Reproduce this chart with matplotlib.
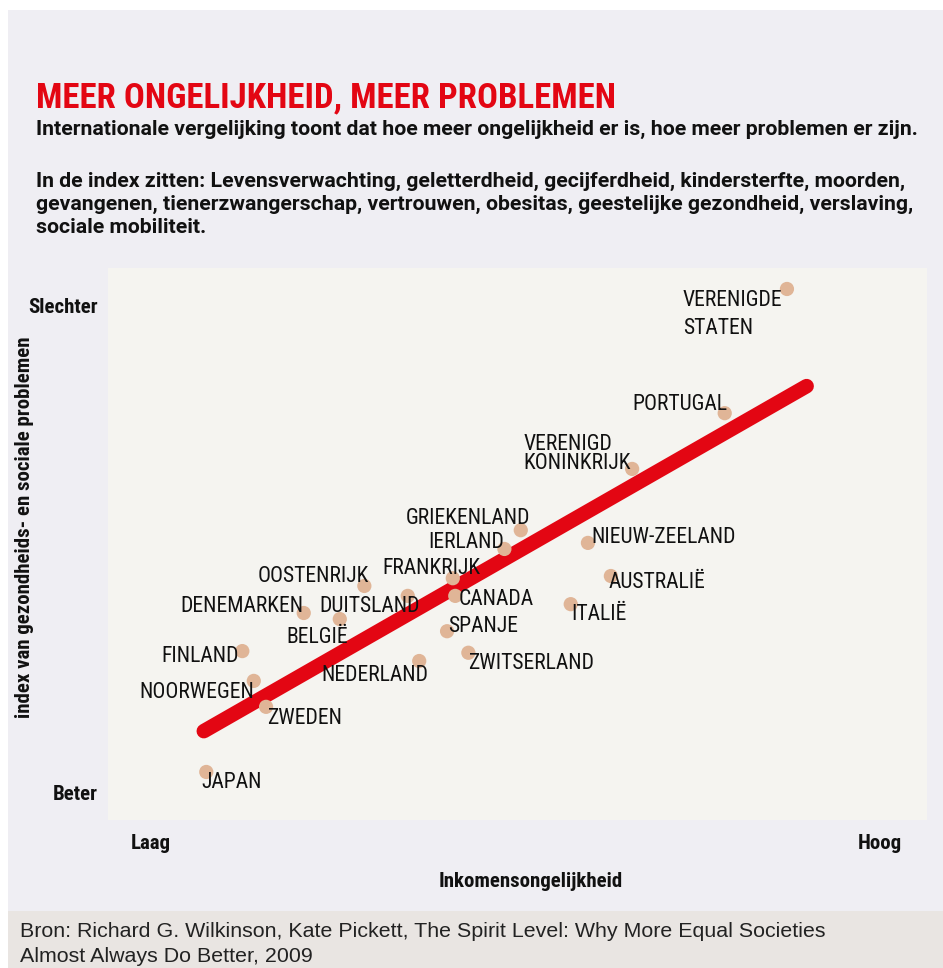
import matplotlib
matplotlib.use("Agg")
import matplotlib.pyplot as plt
from matplotlib.patches import Rectangle

# data (index scores, 0-100 on both axes)
countries = ["VERENIGDE\nSTATEN", "PORTUGAL", "VERENIGD\nKONINKRIJK", "GRIEKENLAND", "IERLAND",
             "NIEUW-ZEELAND", "FRANKRIJK", "AUSTRALIË", "CANADA", "DUITSLAND", "OOSTENRIJK",
             "DENEMARKEN", "BELGIË", "ITALIË", "SPANJE", "ZWITSERLAND", "NEDERLAND",
             "FINLAND", "NOORWEGEN", "ZWEDEN", "JAPAN"]
inequality = [82.9, 75.3, 64.0, 50.4, 48.4, 58.6, 42.1, 61.4, 42.4, 36.6, 31.3,
              23.9, 28.3, 56.5, 41.4, 44.0, 38.0, 16.4, 17.8, 19.3, 12.0]
problems = [96.2, 73.7, 63.6, 52.5, 49.1, 50.2, 43.8, 44.2, 40.6, 40.6, 42.4,
            37.5, 36.4, 39.1, 34.2, 30.3, 28.8, 30.6, 25.2, 20.5, 8.7]
trend_x = [11.7, 85.3]
trend_y = [16.1, 78.6]

# label placement: (dx px, dy px of first baseline, alignment, px between lines)
label_pos = [(-104, -17, "left", 28), (3, 3, "right", 0), (-109, 19, "left", 19),
             (9, 6, "right", 0), (0, 1, "right", 0), (3, 0, "left", 0), (28, 4, "right", 0),
             (-2, -12, "left", 0), (3, -9, "left", 0), (12, -16, "right", 0), (5, 4, "right", 0),
             (0, 1, "right", 0), (8, -24, "right", 0), (1, -16, "left", 0), (1, -1, "left", 0),
             (0, -16, "left", 0), (9, -20, "right", 0), (-3, -11, "right", 0),
             (0, -17, "right", 0), (1, -17, "left", 0), (-5, -16, "left", 0)]

title = "MEER ONGELIJKHEID, MEER PROBLEMEN"
subtitle = "Internationale vergelijking toont dat hoe meer ongelijkheid er is, hoe meer problemen er zijn."
index_lines = ["In de index zitten: Levensverwachting, geletterdheid, gecijferdheid, kindersterfte, moorden,",
               "gevangenen, tienerzwangerschap, vertrouwen, obesitas, geestelijke gezondheid, verslaving,",
               "sociale mobiliteit."]
source_lines = ["Bron: Richard G. Wilkinson, Kate Pickett, The Spirit Level: Why More Equal Societies",
                "Almost Always Do Better, 2009"]

COND = ["Roboto Condensed", "DejaVu Sans"]
ROBOTO = ["Roboto", "DejaVu Sans"]
RED = "#e30613"
INK = "#111111"

W, H = 943, 968
fig = plt.figure(figsize=(W / 100, H / 100), dpi=100)
fig.patch.set_facecolor("white")
fig.patches.append(Rectangle((8 / W, 0), 1, 1 - 10 / H, transform=fig.transFigure,
                             facecolor="#efeef3", edgecolor="none", zorder=-2))
fig.patches.append(Rectangle((8 / W, 0), 1, (H - 911) / H, transform=fig.transFigure,
                             facecolor="#e9e5e2", edgecolor="none", zorder=-1))

ax = fig.add_axes([108 / W, (H - 820) / H, 819 / W, 552 / H])
ax.set_facecolor("#f5f4f0")
ax.set_xlim(0, 100)
ax.set_ylim(0, 100)
for s in ax.spines.values():
    s.set_visible(False)
ax.set_xticks([])
ax.set_yticks([])

ax.plot(trend_x, trend_y, color=RED, lw=10.5, solid_capstyle="round", zorder=2)
ax.scatter(inequality, problems, s=105, color="#e0b597", edgecolors="none", zorder=3)

for name, x, y, (dx, dy, ha, gap) in zip(countries, inequality, problems, label_pos):
    for i, part in enumerate(name.split("\n")):
        ax.annotate(part, (x, y), xytext=(dx, dy - i * gap), textcoords="offset pixels",
                    ha=ha, va="baseline", family=COND, fontsize=15.6, color=INK, zorder=4)


def px_text(x, y, s, **kw):
    fig.text(x / W, 1 - y / H, s, **kw)


# titles
px_text(36, 107, title, family=COND, fontweight="bold", fontsize=25, color=RED, va="baseline")
px_text(36, 135, subtitle, family=ROBOTO, fontweight="bold", fontsize=15.3, color=INK,
        va="baseline")
for i, line in enumerate(index_lines):
    px_text(36, 187 + 23 * i, line, family=ROBOTO, fontweight="bold", fontsize=15.3, color=INK,
            va="baseline")

# axis words
bold = dict(family=COND, fontweight="bold", fontsize=15, color=INK, va="baseline")
px_text(98, 313, "Slechter", ha="right", **bold)
px_text(98, 800, "Beter", ha="right", **bold)
px_text(151, 849, "Laag", ha="center", **bold)
px_text(880, 849, "Hoog", ha="center", **bold)
px_text(531, 887, "Inkomensongelijkheid", ha="center", **bold)
px_text(25, 527, "index van gezondheids- en sociale problemen", family=COND, fontweight="bold",
        fontsize=15, color=INK, rotation=90, ha="center", va="center")

# source
for i, line in enumerate(source_lines):
    px_text(20, 937 + 25 * i, line, family=["Liberation Sans", "DejaVu Sans"], fontsize=15.4,
            color="#222222", va="baseline")

fig.savefig("out.png", dpi=100)
